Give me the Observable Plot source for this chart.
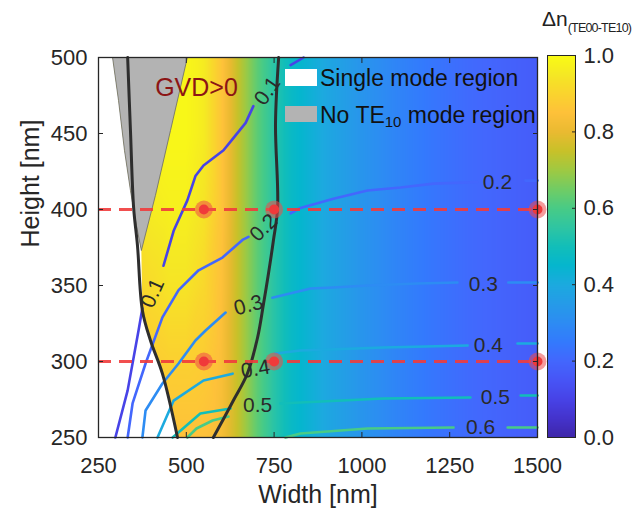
<!DOCTYPE html>
<html><head><meta charset="utf-8">
<script src="https://cdn.jsdelivr.net/npm/d3@7"></script>
<script src="https://cdn.jsdelivr.net/npm/@observablehq/plot@0.6"></script>
<style>
body{margin:0;background:#fff;font-family:"Liberation Sans",Arial,sans-serif;}
#wrap{position:relative;width:636px;height:514px;overflow:hidden;background:#fff;}
#main{position:absolute;left:0;top:0;}
#cbar{position:absolute;left:540px;top:0;}
.box{position:absolute;}
.leg{position:absolute;font-size:23px;color:#111;white-space:nowrap;line-height:1;}
.leg sub{font-size:15px;vertical-align:-4px;line-height:0;}
#ttl{position:absolute;left:542px;top:7px;font-size:21px;color:#222;white-space:nowrap;}
#ttl sub{font-size:12.5px;letter-spacing:-0.8px;vertical-align:-6px;line-height:0;}
</style></head><body>
<div id="wrap">
  <div id="main"></div>
  <div id="cbar"></div>
  <div class="box" style="left:285px;top:69px;width:32px;height:17px;background:#ffffff"></div>
  <div class="leg" style="left:320px;top:67px;">Single mode region</div>
  <div class="box" style="left:285px;top:106px;width:32px;height:16px;background:#b3b3b3"></div>
  <div class="leg" style="left:320px;top:104px;">No TE<sub>10</sub> mode region</div>
  <div id="ttl">Δn<sub>(TE00-TE10)</sub></div>
</div>
<script>
// ---- axes ticks ----
const xTicks = [250, 500, 750, 1000, 1250, 1500];
const yTicks = [250, 300, 350, 400, 450, 500];
const cbTicks = [0, 0.2, 0.4, 0.6, 0.8, 1.0];
const xLabel = "Width [nm]";
const yLabel = "Height [nm]";

// ---- background field Δn (rows = heights, cols = widths) ----
const fieldWidths = [250, 350, 400, 450, 500, 550, 600, 650, 700, 750, 800, 900, 1000, 1100, 1200, 1300, 1400, 1500];
const fieldHeights = [250, 300, 350, 400, 450, 500];
const fieldH250 = [0.85,0.85,0.85,0.85,0.85,0.85,0.83,0.74,0.63,0.54,0.47,0.39,0.33,0.28,0.24,0.21,0.19,0.17];
const fieldH300 = [0.87,0.87,0.88,0.89,0.89,0.88,0.84,0.74,0.63,0.54,0.47,0.39,0.33,0.28,0.24,0.21,0.19,0.17];
const fieldH350 = [0.90,0.90,0.92,0.94,0.94,0.91,0.85,0.74,0.63,0.54,0.47,0.39,0.33,0.28,0.24,0.21,0.19,0.17];
const fieldH400 = [0.94,0.94,0.96,0.97,0.97,0.94,0.86,0.74,0.63,0.54,0.47,0.39,0.33,0.28,0.24,0.21,0.19,0.17];
const fieldH450 = [0.97,0.97,0.98,0.99,0.99,0.96,0.86,0.74,0.63,0.54,0.47,0.39,0.33,0.28,0.24,0.21,0.19,0.17];
const fieldH500 = [0.98,0.98,0.99,1.00,0.99,0.96,0.86,0.74,0.63,0.54,0.47,0.39,0.33,0.28,0.24,0.21,0.19,0.17];

// ---- regions [width, height] ----
const singleModeRegion = [[250,500],[290,500],[307,471.7],[324,438.8],[341,412.5],[358,389.5],[372,373],[375,333.6],[398,313.8],[432,292],[477,250],[250,250]];
const noTE10Region = [[290,500],[307,471.7],[324,438.8],[341,412.5],[358,389.5],[372,373],[412,409.2],[455,452],[503,500]];

// ---- GVD = 0 boundaries ----
const gvdLeft = [[333,500],[341,452],[350,401.3],[361,376.3],[375,333.6],[398,313.8],[432,292],[475,250]];
const gvdRight = [[763,500],[754,456.6],[760,401.3],[748,379.6],[734,357.9],[720,338.2],[703,315.8],[674,292.1],[634,274.3],[577,250]];

// ---- contour lines (null = break for label) ----
const contour01 = [[298,250],[333,281],[364,320.4],[375,335],null,[435,363],[464,386],[503,406],[526,422],[549,429],[606,439],[634,447],[669,457],[691,468],null,[797,495],[834,500]];
const contour02 = [[333,250],[347,272.4],[384,298.7],[432,329],[478,347],[535,360],[603,368.4],[660,380],[677,382],null,[797,397.4],[825,401],[919,407],[1016,412.5],[1110,414.5],[1204,417],[1329,418],null,[1466,419],[1500,419]];
const contour03 = [[375,250],[384,267.8],[432,285.5],[478,298.7],[526,313.8],[555,320.4],[612,332.2],null,[745,342],[854,348],[919,348.7],[1016,350],[1158,351.3],[1272,352],null,[1417,352],[1500,352]];
const contour04 = [[418,250],[464,274.3],[549,287.5],[632,292],null,[754,305.3],[825,307.2],[1061,309.2],[1301,310.5],null,[1443,311.8],[1500,311.8]];
const contour05 = [[461,250],[540,265.8],[626,269.1],null,[768,272.4],[825,273],[1061,275.7],[1309,276.3],null,[1452,277.6],[1500,277.6]];
const contour06 = [[503,250],[529,255.9],[575,261.2],[620,263.8],null,[782,250],[825,252.6],[1016,255.9],[1261,256.6],null,[1415,256.6],[1500,256.6]];
const contourLevels = [0.1, 0.2, 0.3, 0.4, 0.5, 0.6];
const contourLabels = [["0.1",731,478,-55],["0.1",404,345,-66],["0.2",720,388,-45],["0.3",677,337,-15],["0.4",697,295,-10],["0.5",703,271,0],
  ["0.2",1386,418,0],["0.3",1346,351,0],["0.4",1360,310.5,0],["0.5",1380,276.3,0],["0.6",1338,256.6,0]];

// ---- marked points ----
const markerWidths = [550, 750, 1500];
const markerHeights = [300, 400];

// ---- colormap (parula) ----
const parula = ["#3e26a8","#4433cc","#4743e7","#4755f6","#4367fd","#337afd","#2d8cf3","#259be8","#1caadf","#05b6ce","#12beb9","#2fc5a2","#48cb86","#71cc64","#9fc942","#c8c129","#eaba31","#fec13a","#fad42e","#f5e824","#f9fb15"];
const colorScale = {type: "linear", domain: [0, 1], interpolate: d3.piecewise(d3.interpolateRgb, parula)};

// ---- build tables ----
const fieldRows = [fieldH250, fieldH300, fieldH350, fieldH400, fieldH450, fieldH500];
const field = [];
fieldHeights.forEach((h, i) => fieldWidths.forEach((w, j) => field.push({w, h, v: fieldRows[i][j]})));
const contourSets = [contour01, contour02, contour03, contour04, contour05, contour06];
const contourRows = [];
contourSets.forEach((pts, k) => pts.forEach(p => contourRows.push({level: contourLevels[k], w: p ? p[0] : NaN, h: p ? p[1] : NaN})));
const markers = [];
markerHeights.forEach(h => markerWidths.forEach(w => markers.push({w, h})));

const FONT = "Liberation Sans, Arial, sans-serif";
const ink = "#262626";

const main = Plot.plot({
  width: 636, height: 514,
  marginLeft: 98, marginRight: 99, marginTop: 57, marginBottom: 77,
  x: {domain: [250, 1500]},
  y: {domain: [250, 500]},
  color: colorScale,
  style: {fontFamily: FONT, fontSize: "22px", color: ink, background: "transparent", overflow: "visible"},
  marks: [
    Plot.raster(field, {x: "w", y: "h", fill: "v", interpolate: "barycentric"}),
    Plot.line(singleModeRegion, {x: d => d[0], y: d => d[1], fill: "#ffffff", stroke: "none"}),
    Plot.line(noTE10Region, {x: d => d[0], y: d => d[1], fill: "#b3b3b3", stroke: "#6a6a6a", strokeWidth: 0.8}),
    Plot.line(contourRows, {x: "w", y: "h", z: "level", stroke: "level", strokeWidth: 2.6, curve: "linear"}),
    Plot.line(gvdLeft, {x: d => d[0], y: d => d[1], stroke: "#2e2e2e", strokeWidth: 3, curve: "catmull-rom"}),
    Plot.line(gvdRight, {x: d => d[0], y: d => d[1], stroke: "#2e2e2e", strokeWidth: 3, curve: "catmull-rom"}),
    Plot.ruleY(markerHeights, {stroke: "#f03c3c", strokeWidth: 3, strokeDasharray: "13,8", strokeOpacity: 0.9}),
    Plot.dot(markers, {x: "w", y: "h", r: 9, fill: "#ef4a4a", fillOpacity: 0.55, stroke: "none"}),
    Plot.dot(markers, {x: "w", y: "h", r: 5, fill: "#f03a3a", stroke: "none"}),
    Plot.text(contourLabels, {x: d => d[1], y: d => d[2], text: d => d[0], rotate: d => d[3], fontSize: 21, fill: "#2a2a2a", fontFamily: FONT}),
    Plot.text(["GVD>0"], {x: [529], y: [480], text: d => d, fontSize: 25, fill: "#8c1515", fontFamily: FONT}),
    Plot.frame({stroke: ink, strokeWidth: 1.3}),
    Plot.axisX(xTicks, {anchor: "bottom", tickSize: -5, tickPadding: 25, tickFormat: d => String(d), label: null, fontSize: 22}),
    Plot.axisX(xTicks, {anchor: "top", tickSize: -5, tickFormat: () => "", label: null}),
    Plot.axisY(yTicks, {anchor: "left", tickSize: -5, tickPadding: 16, tickFormat: d => String(d), label: null, fontSize: 22}),
    Plot.axisY(yTicks, {anchor: "right", tickSize: -5, tickFormat: () => "", label: null}),
    Plot.text([xLabel], {frameAnchor: "bottom", dy: 57, lineAnchor: "middle", text: d => d, fontSize: 25, fill: ink, fontFamily: FONT}),
    Plot.text([yLabel], {frameAnchor: "left", dx: -68, rotate: -90, lineAnchor: "middle", text: d => d, fontSize: 25, fill: ink, fontFamily: FONT})
  ]
});
document.getElementById("main").appendChild(main);

const cbar = Plot.plot({
  width: 96, height: 514,
  marginLeft: 7, marginRight: 61, marginTop: 55, marginBottom: 77,
  x: {domain: [0, 1], axis: null},
  y: {domain: [0, 1]},
  color: colorScale,
  style: {fontFamily: FONT, fontSize: "22px", color: ink, background: "transparent"},
  marks: [
    Plot.raster({fill: (x, y) => y, x1: 0, x2: 1, y1: 0, y2: 1}),
    Plot.frame({stroke: ink, strokeWidth: 1}),
    Plot.axisY(cbTicks, {anchor: "right", tickSize: -4, tickPadding: 12, tickFormat: d3.format(".1f"), label: null, fontSize: 22})
  ]
});
document.getElementById("cbar").appendChild(cbar);
</script>
</body></html>
